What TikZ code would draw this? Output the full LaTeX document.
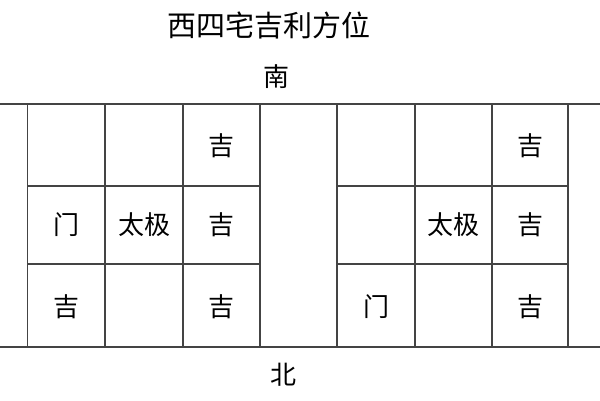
\documentclass[tikz,border=0pt]{standalone}
\usepackage{fontspec}
\usepackage{xcolor}
\usepackage{tikz}
\usetikzlibrary{calc}
\newfontfamily\cjk{Noto Sans CJK SC}
\definecolor{gridcolor}{HTML}{444444}
\tikzset{
  grid line/.style={gridcolor, line width=1.5pt},
  cell text/.style={font=\cjk\fontsize{26pt}{26pt}\selectfont, inner sep=0pt},
  head text/.style={font=\cjk\fontsize{29pt}{29pt}\selectfont, inner sep=0pt}
}

\begin{document}
\begin{tikzpicture}[x=1pt,y=1pt]
   \useasboundingbox (0,0) rectangle (600,400);
   %% title and directions
   \node [head text] (title) at (269,375) {西四宅吉利方位};
   \node [cell text] (south) at (276,323) {南};
   \node [cell text] (north) at (283,25) {北};
   %% long band lines
   \draw [grid line] (0,296) -- (600,296);
   \draw [grid line] (0,53) -- (600,53);
   %% left grid
   \draw [grid line] (27.5,296) -- (27.5,53);
   \draw [grid line] (105,296) -- (105,53);
   \draw [grid line] (183,296) -- (183,53);
   \draw [grid line] (260,296) -- (260,53);
   \draw [grid line] (27.5,214) -- (260,214);
   \draw [grid line] (27.5,136) -- (260,136);
   %% right grid
   \draw [grid line] (337,296) -- (337,53);
   \draw [grid line] (415,296) -- (415,53);
   \draw [grid line] (492,296) -- (492,53);
   \draw [grid line] (568,296) -- (568,53);
   \draw [grid line] (337,214) -- (568,214);
   \draw [grid line] (337,136) -- (568,136);
   %% left grid labels
   \node [cell text] (lji1) at (221.5,254) {吉};
   \node [cell text] (lmen) at (66,175) {门};
   \node [cell text] (ltaiji) at (144,175) {太极};
   \node [cell text] (lji2) at (221.5,175) {吉};
   \node [cell text] (lji3) at (66,93) {吉};
   \node [cell text] (lji4) at (221.5,93) {吉};
   %% right grid labels
   \node [cell text] (rji1) at (530,254) {吉};
   \node [cell text] (rtaiji) at (453.5,175) {太极};
   \node [cell text] (rji2) at (530,175) {吉};
   \node [cell text] (rmen) at (376,93) {门};
   \node [cell text] (rji3) at (530,93) {吉};
\end{tikzpicture}
\end{document}
